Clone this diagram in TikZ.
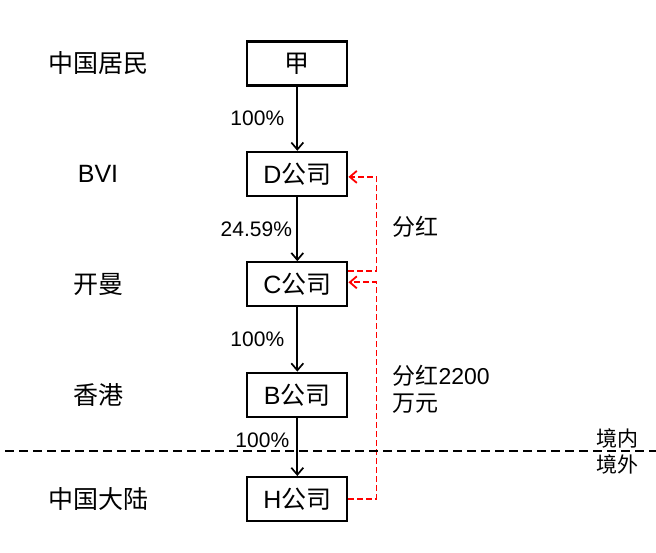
\documentclass[tikz,border=0pt]{standalone}
\usepackage{fontspec}
\setmainfont{Liberation Sans}
\newfontfamily\cjk{Noto Sans CJK SC}
\usetikzlibrary{positioning, arrows.meta}

\begin{document}
\begin{tikzpicture}[
			node distance=66pt,
			company_node/.style={
				rectangle,
				draw=black,
				line width=2.2pt,
				minimum width=100pt,
				minimum height=44pt,
				inner sep=0pt,
				font=\fontsize{25}{30}\selectfont
			},
			region_node/.style={
				minimum height=44pt,
				text width=120pt,
				text centered,
				font=\fontsize{25}{30}\selectfont\cjk
			},
			share_label/.style={
				font=\fontsize{21}{25}\selectfont
			},
			note_label/.style={
				align=left,
				font=\fontsize{23}{27}\selectfont\cjk
			},
			line/.style={
				-{Straight Barb[length=7pt,width=12pt]},
				line width=1.7pt
			},
			dividend_line/.style={
				-{Straight Barb[length=7pt,width=12pt]},
				red,
				dash pattern=on 6pt off 3pt,
				line width=1.8pt
			}
			]
			
			\useasboundingbox (0,0) rectangle (656pt,-552pt);
			
			% Regions
			
			\node [region_node] at (98pt,-63.5pt) (R0) {中国居民};
			\node [region_node, below=of R0] (R1) {\rmfamily BVI};
			\node [region_node, below=of R1] (R2) {开曼};
			\node [region_node, below=of R2] (R3) {香港};
			\node [region_node, below=60pt of R3] (R4) {中国大陆};
			
			% Companies
			
			\node [company_node, right=84.7pt of R0] (Jia) {\cjk 甲};
			\node [company_node, right=84.7pt of R1] (D) {D\cjk 公司};
			\node [company_node, right=84.7pt of R2] (C) {C\cjk 公司};
			\node [company_node, right=84.7pt of R3] (B) {B\cjk 公司};
			\node [company_node, right=84.7pt of R4] (H) {H\cjk 公司};
			
			% Holdings
			
			\draw [line] (Jia) -- node [share_label, xshift=-40pt] {100\%} (D);
			\draw [line] (D) -- node [share_label, xshift=-41pt] {24.59\%} (C);
			\draw [line] (C) -- node [share_label, xshift=-40pt] {100\%} (B);
			\draw [line] (B) -- node [share_label, pos=0.38, xshift=-35pt] {100\%} (H);
			
			% Dividends
			
			\draw [dividend_line] ([yshift=13pt]C.east) -- ++(28pt,0) |- ([yshift=-3pt]D.east);
			\draw [dividend_line] (H.east) -- ++(28pt,0) |- ([yshift=2pt]C.east);
			
			\node [note_label, anchor=west] at (389pt,-227pt) (div1) {分红};
			\node [note_label, anchor=west] at (389pt,-389pt) (div2) {分红{\rmfamily 2200}\\万元};
			
			% Separator
			
			\draw [dash pattern=on 9pt off 5pt, line width=1.8pt] (5pt,-451pt) coordinate (sep_w) -- (656pt,-451pt) coordinate (sep_e);
			\node [share_label, font=\fontsize{21}{25}\selectfont\cjk] at (617pt,-438pt) (inside) {境内};
			\node [share_label, font=\fontsize{21}{25}\selectfont\cjk] at (617pt,-464pt) (outside) {境外};
			
		\end{tikzpicture}
\end{document}
